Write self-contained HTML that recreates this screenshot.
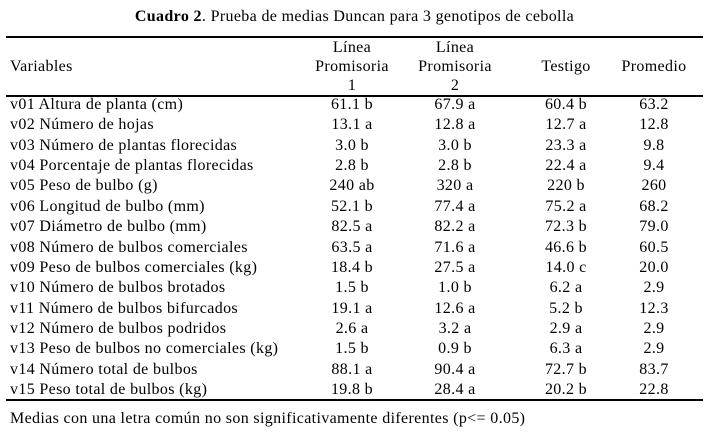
<!DOCTYPE html>
<html><head><meta charset="utf-8"><style>
body{margin:0;width:709px;height:435px;background:#fff;position:relative;font-family:"Liberation Serif",serif;font-size:16px;letter-spacing:0.35px;color:#000;overflow:hidden}
.t{position:absolute;white-space:nowrap;line-height:19px}
.c{position:absolute;text-align:center;width:120px;white-space:nowrap;line-height:19px}
.r{position:absolute;left:6px;width:697px;background:#000}
</style></head><body>
<div class="t" style="left:0;width:709px;text-align:center;top:7px"><b>Cuadro 2</b>. Prueba de medias Duncan para 3 genotipos de cebolla</div>
<div class="r" style="top:36px;height:2px"></div>
<div class="t" style="left:10px;top:57px">Variables</div>
<div class="c" style="left:292px;top:38px">Línea<br>Promisoria<br>1</div>
<div class="c" style="left:395px;top:38px">Línea<br>Promisoria<br>2</div>
<div class="c" style="left:506px;top:57px">Testigo</div>
<div class="c" style="left:594px;top:57px">Promedio</div>
<div class="r" style="top:95px;height:2px"></div>
<div id="rows"></div>
<div class="r" style="top:399px;height:2px"></div>
<div class="t" style="left:10px;top:409px">Medias con una letra común no son significativamente diferentes (p&lt;= 0.05)</div>
<script>
var d=[["v01 Altura de planta (cm)","61.1 b","67.9 a","60.4 b","63.2"],
["v02 Número de hojas","13.1 a","12.8 a","12.7 a","12.8"],
["v03 Número de plantas florecidas","3.0 b","3.0 b","23.3 a","9.8"],
["v04 Porcentaje de plantas florecidas","2.8 b","2.8 b","22.4 a","9.4"],
["v05 Peso de bulbo (g)","240 ab","320 a","220 b","260"],
["v06 Longitud de bulbo (mm)","52.1 b","77.4 a","75.2 a","68.2"],
["v07 Diámetro de bulbo (mm)","82.5 a","82.2 a","72.3 b","79.0"],
["v08 Número de bulbos comerciales","63.5 a","71.6 a","46.6 b","60.5"],
["v09 Peso de bulbos comerciales (kg)","18.4 b","27.5 a","14.0 c","20.0"],
["v10 Número de bulbos brotados","1.5 b","1.0 b","6.2 a","2.9"],
["v11 Número de bulbos bifurcados","19.1 a","12.6 a","5.2 b","12.3"],
["v12 Número de bulbos podridos","2.6 a","3.2 a","2.9 a","2.9"],
["v13 Peso de bulbos no comerciales (kg)","1.5 b","0.9 b","6.3 a","2.9"],
["v14 Número total de bulbos","88.1 a","90.4 a","72.7 b","83.7"],
["v15 Peso total de bulbos (kg)","19.8 b","28.4 a","20.2 b","22.8"]];
var L=[292,395,506,594],h="";
d.forEach(function(r,i){var y=95+i*20.36;
h+='<div class="t" style="left:10px;top:'+y+'px">'+r[0]+'</div>';
for(var j=1;j<5;j++)h+='<div class="c" style="left:'+L[j-1]+'px;top:'+y+'px">'+r[j]+'</div>';});
document.getElementById("rows").innerHTML=h;
</script>
</body></html>
